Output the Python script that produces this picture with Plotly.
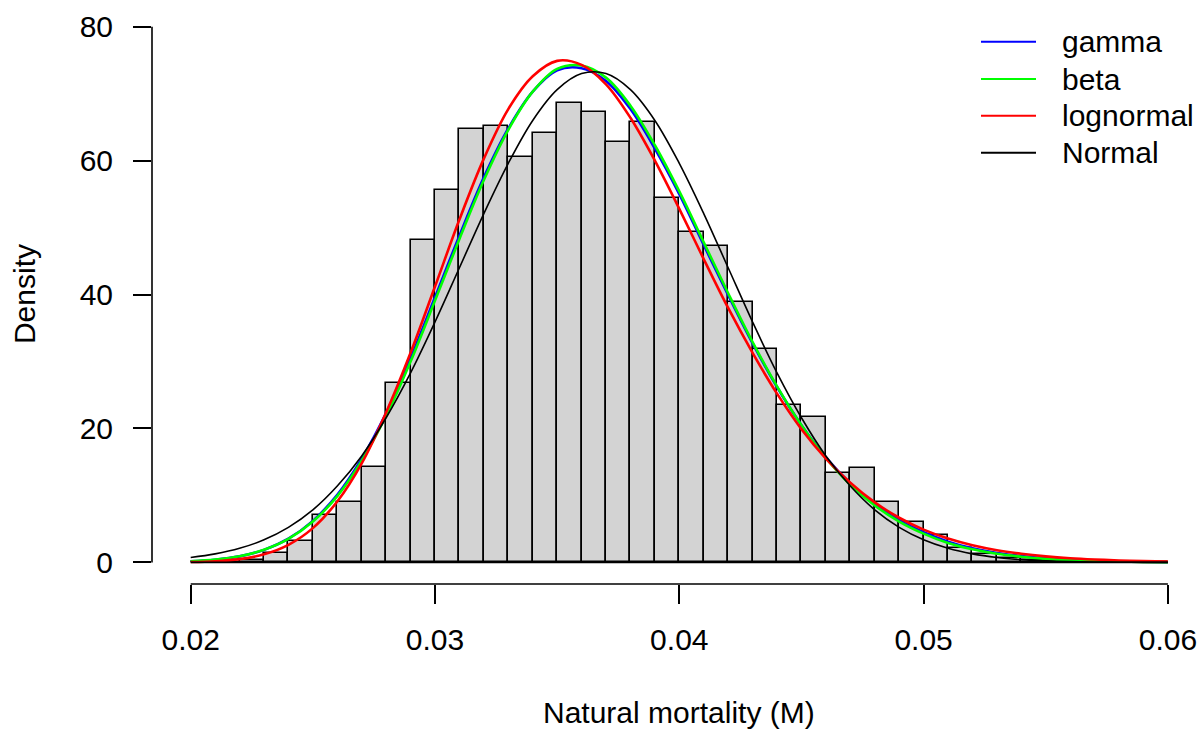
import plotly.graph_objects as go

# ---------------- data ----------------
bin_left = [0.020, 0.021, 0.022, 0.023, 0.024, 0.025, 0.026, 0.027, 0.028, 0.029,
            0.030, 0.031, 0.032, 0.033, 0.034, 0.035, 0.036, 0.037, 0.038, 0.039,
            0.040, 0.041, 0.042, 0.043, 0.044, 0.045, 0.046, 0.047, 0.048, 0.049,
            0.050, 0.051, 0.052, 0.053, 0.054, 0.055, 0.056, 0.057, 0.058, 0.059]
bin_density = [0.0, 0.1, 0.3, 1.4, 3.2, 7.1, 9.0, 14.3, 26.8, 48.2,
               55.6, 64.8, 65.2, 60.6, 64.1, 68.6, 67.2, 62.8, 65.8, 54.4,
               49.3, 47.2, 38.9, 31.8, 23.5, 21.7, 13.3, 14.1, 9.0, 6.1,
               4.1, 2.2, 1.2, 0.6, 0.4, 0.2, 0.1, 0.1, 0.0, 0.1]
bin_width = 0.001

curve_x = [0.020, 0.021, 0.022, 0.023, 0.024, 0.025, 0.026, 0.027, 0.028, 0.029,
           0.030, 0.031, 0.032, 0.033, 0.034, 0.035, 0.036, 0.037, 0.038, 0.039,
           0.040, 0.041, 0.042, 0.043, 0.044, 0.045, 0.046, 0.047, 0.048, 0.049,
           0.050, 0.051, 0.052, 0.053, 0.054, 0.055, 0.056, 0.057, 0.058, 0.059, 0.060]
gamma_y = [0.16, 0.40, 0.90, 1.87, 3.54, 6.2, 10.1, 15.5, 22.3, 30.5,
           39.6, 48.8, 57.5, 64.8, 70.3, 73.5, 73.8, 71.9, 67.7, 61.8,
           55.0, 47.4, 39.9, 32.7, 26.2, 20.5, 15.7, 11.8, 8.7, 6.3,
           4.5, 3.1, 2.1, 1.4, 0.95, 0.62, 0.40, 0.26, 0.16, 0.10, 0.06]
beta_y = [0.18, 0.43, 0.93, 1.88, 3.50, 6.1, 9.9, 15.2, 21.9, 30.0,
          39.1, 48.3, 57.1, 64.6, 70.3, 73.7, 74.2, 72.4, 68.2, 62.3,
          55.4, 47.8, 40.2, 32.9, 26.3, 20.5, 15.6, 11.6, 8.5, 6.1,
          4.3, 2.9, 1.95, 1.28, 0.85, 0.53, 0.33, 0.20, 0.12, 0.07, 0.04]
lognormal_y = [0.05, 0.17, 0.49, 1.20, 2.62, 5.12, 9.10, 14.8, 22.4, 31.3,
               41.2, 51.2, 60.3, 67.7, 72.6, 74.9, 74.3, 71.4, 66.4, 60.0,
               52.8, 45.3, 38.0, 31.3, 25.2, 19.9, 15.5, 11.9, 8.96, 6.67,
               4.90, 3.56, 2.56, 1.82, 1.29, 0.90, 0.62, 0.43, 0.29, 0.20, 0.13]
normal_y = [0.74, 1.27, 2.10, 3.37, 5.23, 7.84, 11.4, 15.9, 21.6, 28.3,
            35.9, 44.0, 52.1, 59.6, 66.0, 70.6, 73.0, 73.0, 70.6, 66.0,
            59.6, 52.1, 44.0, 35.9, 28.3, 21.6, 15.9, 11.4, 7.84, 5.23,
            3.37, 2.10, 1.27, 0.74, 0.42, 0.23, 0.12, 0.06, 0.03, 0.01, 0.01]

x_ticks = [0.02, 0.03, 0.04, 0.05, 0.06]
x_tick_text = ["0.02", "0.03", "0.04", "0.05", "0.06"]
y_ticks = [0, 20, 40, 60, 80]
y_tick_text = ["0", "20", "40", "60", "80"]

legend_labels = ["gamma", "beta", "lognormal", "Normal"]
legend_colors = ["#0000FF", "#00FF00", "#FF0000", "#000000"]
x_title = "Natural mortality (M)"
y_title = "Density"

# ---------------- layout geometry ----------------
W, H = 1200, 729
ML, MR, MT, MB = 152, 0, 0, 145
PW, PH = W - ML - MR, H - MT - MB
FONT = "Liberation Sans, Arial, sans-serif"
FS = 30


def px_x(p):
    return (p - ML) / PW


def px_y(p):
    return (MT + PH - p) / PH


fig = go.Figure()

bin_centers = [b + bin_width / 2 for b in bin_left]
fig.add_trace(go.Bar(
    x=bin_centers, y=bin_density, width=bin_width,
    marker=dict(color="#D3D3D3", line=dict(color="#000000", width=1.6)),
    showlegend=False, hoverinfo="skip"))

series = [gamma_y, beta_y, lognormal_y, normal_y]
widths = [2.6, 2.6, 2.6, 1.6]
for name, ys, col, w in zip(legend_labels, series, legend_colors, widths):
    fig.add_trace(go.Scatter(
        x=curve_x, y=ys, mode="lines", name=name,
        line=dict(color=col, width=w, shape="spline", smoothing=1.0),
        showlegend=False))

shapes = [
    # x axis line (R style, only between first and last tick)
    dict(type="line", xref="x", yref="paper", x0=x_ticks[0], x1=x_ticks[-1], y0=0, y1=0,
         line=dict(color="black", width=1.6)),
    # y axis line
    dict(type="line", xref="paper", yref="y", x0=0, x1=0, y0=y_ticks[0], y1=y_ticks[-1],
         line=dict(color="black", width=1.6)),
    # histogram baseline (zero-height bins)
    dict(type="line", xref="x", yref="y", x0=bin_left[0], x1=bin_left[-1] + bin_width, y0=0, y1=0,
         line=dict(color="black", width=1.6)),
]

annotations = [
    dict(text=x_title, xref="x", yref="paper", x=0.04, y=px_y(712),
         xanchor="center", yanchor="middle", showarrow=False,
         font=dict(family=FONT, size=FS, color="black")),
    dict(text=y_title, xref="paper", yref="y", x=px_x(24.5), y=40,
         xanchor="center", yanchor="middle", textangle=-90, showarrow=False,
         font=dict(family=FONT, size=FS, color="black")),
]

leg_rows = [41.7, 79.0, 115.7, 152.7]
for lab, col, ry in zip(legend_labels, legend_colors, leg_rows):
    shapes.append(dict(type="line", xref="paper", yref="paper",
                       x0=px_x(981), x1=px_x(1036), y0=px_y(ry), y1=px_y(ry),
                       line=dict(color=col, width=2)))
    annotations.append(dict(text=lab, xref="paper", yref="paper",
                            x=px_x(1059.5), y=px_y(ry), xanchor="left", yanchor="middle",
                            showarrow=False, font=dict(family=FONT, size=FS, color="black")))

fig.update_layout(
    width=W, height=H,
    margin=dict(l=ML, r=MR, t=MT, b=MB, pad=0),
    paper_bgcolor="white", plot_bgcolor="white",
    bargap=0, showlegend=False,
    font=dict(family=FONT, size=FS, color="black"),
    xaxis=dict(range=[0.018416, 0.061314], tickvals=x_ticks, ticktext=x_tick_text,
               ticks="outside", ticklen=19, tickwidth=1.6, tickcolor="black",
               ticklabelstandoff=10, showgrid=False, zeroline=False, showline=False,
               tickfont=dict(family=FONT, size=FS, color="black")),
    yaxis=dict(range=[-3.226, 83.99], tickvals=y_ticks, ticktext=y_tick_text,
               ticks="outside", ticklen=18, tickwidth=1.6, tickcolor="black",
               ticklabelstandoff=14, showgrid=False, zeroline=False, showline=False,
               tickfont=dict(family=FONT, size=FS, color="black")),
    shapes=shapes, annotations=annotations,
)

fig.write_html("out.html")
